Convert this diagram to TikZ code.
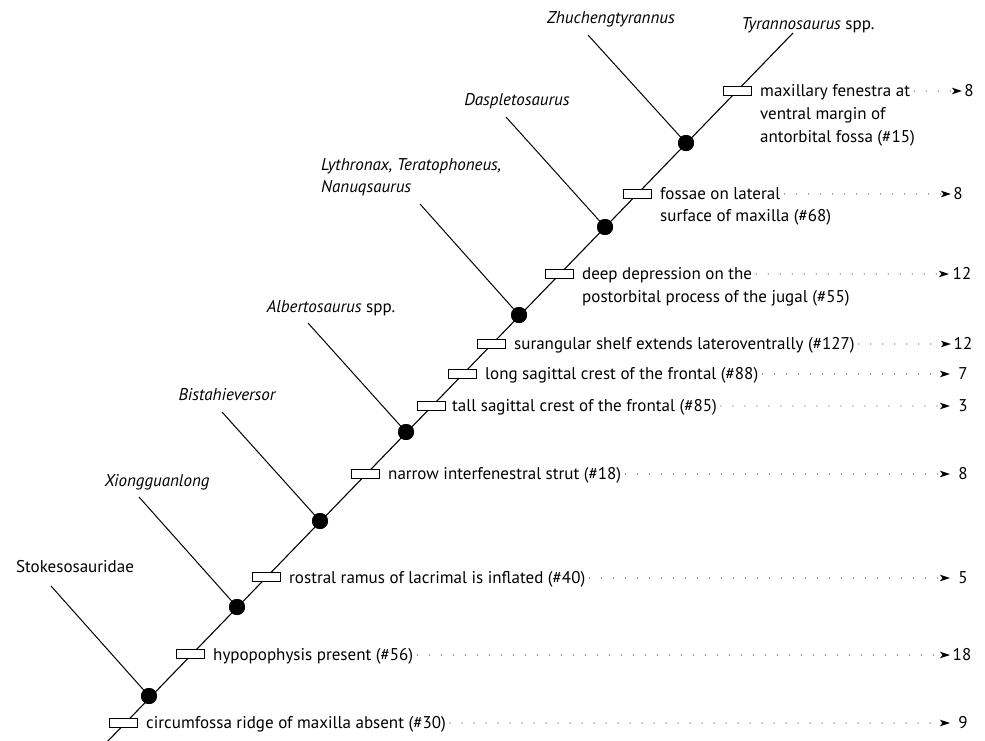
\documentclass[tikz,border=0pt]{standalone}
\usepackage{fontspec}
\setmainfont{PT Sans}
\usetikzlibrary{arrows.meta}
\begin{document}
\begin{tikzpicture}[x=1pt,y=-1pt,
  stemline/.style={line width=1.1pt},
  branch/.style={line width=1pt},
  nodedot/.style={circle,fill=black,inner sep=0pt,minimum size=16pt},
  charbox/.style={draw,fill=white,line width=0.7pt,minimum width=28pt,minimum height=9pt,inner sep=0pt},
  chartext/.style={anchor=base west,inner sep=0pt,font=\fontsize{17}{20}\selectfont},
  taxon/.style={anchor=base,inner sep=0pt,font=\fontsize{17}{20}\selectfont},
  num/.style={anchor=base,inner sep=0pt,font=\fontsize{17}{20}\selectfont},
  dotline/.style={black!70,line width=1.3pt,line cap=round,dash pattern=on 0pt off 12pt,
    shorten <=4pt,-{Stealth[black,length=10pt,width=6.5pt,inset=2.5pt]}}
]
\useasboundingbox (0,0) rectangle (985,740);

% main stem
\coordinate (base) at (107,742);
\coordinate (ttop) at (793,33);
\draw[stemline] (base) -- (ttop);

% internal nodes
\node[nodedot] (n1) at (149,696) {};
\node[nodedot] (n2) at (237,607) {};
\node[nodedot] (n3) at (320,521) {};
\node[nodedot] (n4) at (406,432) {};
\node[nodedot] (n5) at (519,315) {};
\node[nodedot] (n6) at (605,227) {};
\node[nodedot] (n7) at (686,143) {};

% branch tops
\coordinate (b1) at (51,586);
\coordinate (b2) at (139,497);
\coordinate (b3) at (222,412);
\coordinate (b4) at (308,323);
\coordinate (b5) at (420,204);
\coordinate (b6) at (506,117);
\coordinate (b7) at (588,35);
\foreach \i in {1,...,7} {\draw[branch] (b\i) -- (n\i.center);}
\foreach \i in {1,...,7} {\node[nodedot] at (n\i) {};}

% taxon labels
\node[taxon] (l1) at (75,572.5) {Stokesosauridae};
\node[taxon] (l2) at (157,486.5) {\itshape Xiongguanlong};
\node[taxon] (l3) at (227,400.5) {\itshape Bistahieversor};
\node[taxon] (l4) at (331,312.5) {\textit{Albertosaurus} spp.};
\node[taxon,anchor=base west] (l5a) at (321,170.5) {\itshape Lythronax, Teratophoneus,};
\node[taxon,anchor=base west] (l5b) at (321,192.5) {\itshape Nanuqsaurus};
\node[taxon] (l6) at (517,105.5) {\itshape Daspletosaurus};
\node[taxon] (l7) at (611,23.5) {\itshape Zhuchengtyrannus};
\node[taxon] (l8) at (808,29.5) {\textit{Tyrannosaurus} spp.};

% character boxes
\node[charbox] (c1) at (123,723) {};
\node[charbox] (c2) at (190,654) {};
\node[charbox] (c3) at (266,577) {};
\node[charbox] (c4) at (365,474) {};
\node[charbox] (c5) at (431,406) {};
\node[charbox] (c6) at (462,374) {};
\node[charbox] (c7) at (491,344) {};
\node[charbox] (c8) at (559,274) {};
\node[charbox] (c9) at (637,194) {};
\node[charbox] (c10) at (737,91) {};

% character texts
\node[chartext] (t1) at (146,728.5) {circumfossa ridge of maxilla absent (\#30)};
\node[chartext] (t2) at (213,660.5) {hypopophysis present (\#56)};
\node[chartext] (t3) at (289,583.5) {rostral ramus of lacrimal is inflated (\#40)};
\node[chartext] (t4) at (388,479.5) {narrow interfenestral strut (\#18)};
\node[chartext] (t5) at (452,411.5) {tall sagittal crest of the frontal (\#85)};
\node[chartext] (t6) at (485,379.5) {long sagittal crest of the frontal (\#88)};
\node[chartext] (t7) at (514,349.5) {surangular shelf extends lateroventrally (\#127)};
\node[chartext] (t8) at (582,279.5) {deep depression on the};
\node[chartext] (t8b) at (582,302.5) {postorbital process of the jugal (\#55)};
\node[chartext] (t9) at (660,199.5) {fossae on lateral};
\node[chartext] (t9b) at (660,221.5) {surface of maxilla (\#68)};
\node[chartext] (t10) at (760,96.5) {maxillary fenestra at};
\node[chartext] (t10b) at (760,119.5) {ventral margin of};
\node[chartext] (t10c) at (760,142.5) {antorbital fossa (\#15)};

% numbers
\node[num] (m1) at (963,728.5) {9};
\node[num] (m2) at (962,660.5) {18};
\node[num] (m3) at (963,583.5) {5};
\node[num] (m4) at (963,479.5) {8};
\node[num] (m5) at (963,411.5) {3};
\node[num] (m6) at (963,379.5) {7};
\node[num] (m7) at (963,349.5) {12};
\node[num] (m8) at (962,279.5) {12};
\node[num] (m9) at (958,199.5) {8};
\node[num] (m10) at (969,96.5) {8};

% arrow tips
\coordinate (a1) at (950,723);
\coordinate (a2) at (950,655);
\coordinate (a3) at (950,578);
\coordinate (a4) at (950,474);
\coordinate (a5) at (950,406);
\coordinate (a6) at (950,374);
\coordinate (a7) at (951,344);
\coordinate (a8) at (949,274);
\coordinate (a9) at (951,194);
\coordinate (a10) at (962,91);

\foreach \i in {1,...,10} {\draw[dotline] ([yshift=5.5pt]t\i.base east) -- (a\i);}
\end{tikzpicture}
\end{document}
